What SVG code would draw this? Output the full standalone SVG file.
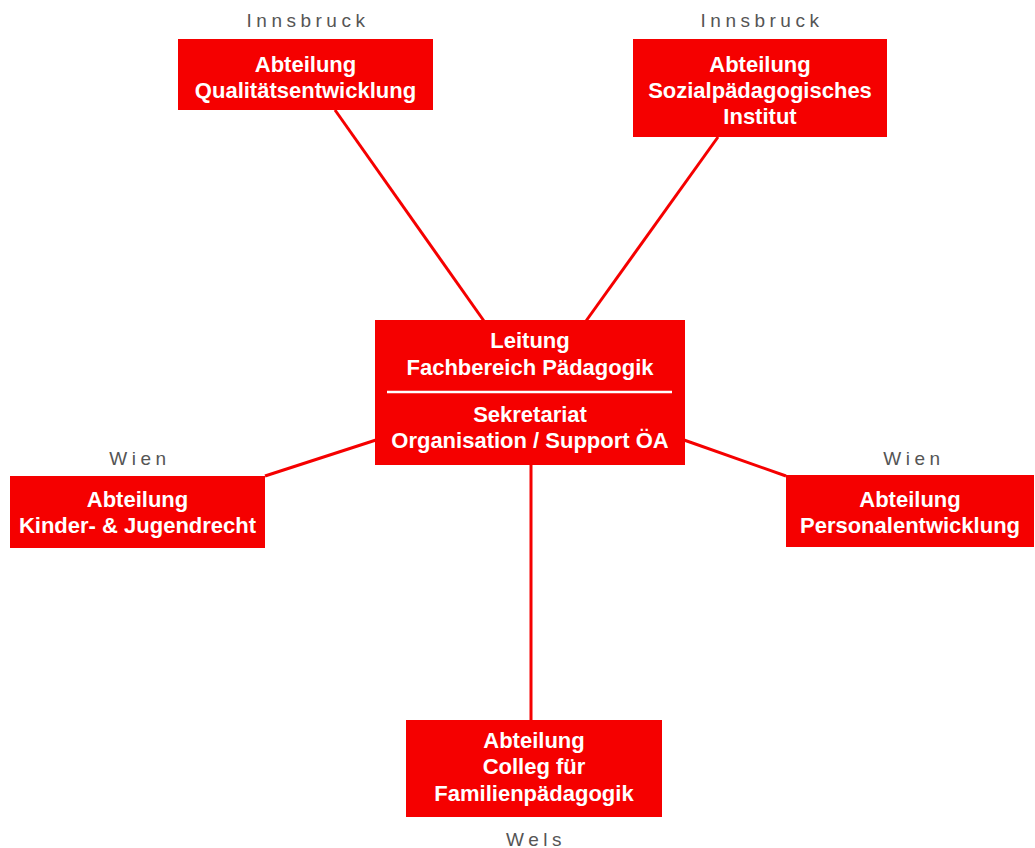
<svg xmlns="http://www.w3.org/2000/svg" width="1035" height="848" viewBox="0 0 1035 848">
<style>
.box{fill:#f50000;}
.t{font-family:"Liberation Sans",Arial,sans-serif;font-weight:bold;font-size:22px;fill:#fff;text-anchor:middle;}
.loc{font-family:"Liberation Sans",Arial,sans-serif;font-size:19px;fill:#555;text-anchor:middle;letter-spacing:4.5px;}
.c{stroke:#f50000;stroke-width:3;fill:none;}
</style>
<rect width="1035" height="848" fill="#fff"/>
<g id="connectors">
<line class="c" x1="335" y1="110" x2="484" y2="321"/>
<line class="c" x1="718" y1="137" x2="586" y2="321"/>
<line class="c" x1="265" y1="476" x2="376" y2="440"/>
<line class="c" x1="684" y1="440" x2="786" y2="476"/>
<line class="c" x1="531" y1="464" x2="531" y2="721"/>
</g>
<g id="center">
<rect class="box" x="375" y="320" width="310" height="145"/>
<text class="t" x="530" y="348">Leitung</text>
<text class="t" x="530" y="375">Fachbereich Pädagogik</text>
<line x1="387" y1="392" x2="672" y2="392" stroke="#fff" stroke-width="2.5"/>
<text class="t" x="530" y="422">Sekretariat</text>
<text class="t" x="530" y="448">Organisation / Support ÖA</text>
</g>
<g id="qualitaet">
<text class="loc" x="308" y="27">Innsbruck</text>
<rect class="box" x="178" y="39" width="255" height="71"/>
<text class="t" x="305.5" y="72">Abteilung</text>
<text class="t" x="305.5" y="98">Qualitätsentwicklung</text>
</g>
<g id="sozial">
<text class="loc" x="762" y="27">Innsbruck</text>
<rect class="box" x="633" y="39" width="254" height="98"/>
<text class="t" x="760" y="72">Abteilung</text>
<text class="t" x="760" y="98">Sozialpädagogisches</text>
<text class="t" x="760" y="124">Institut</text>
</g>
<g id="kinder">
<text class="loc" x="140" y="465">Wien</text>
<rect class="box" x="10" y="476" width="255" height="72"/>
<text class="t" x="137.5" y="507">Abteilung</text>
<text class="t" x="137.5" y="533">Kinder- &amp; Jugendrecht</text>
</g>
<g id="personal">
<text class="loc" x="914" y="465">Wien</text>
<rect class="box" x="786" y="475" width="248" height="72"/>
<text class="t" x="910" y="507">Abteilung</text>
<text class="t" x="910" y="533">Personalentwicklung</text>
</g>
<g id="colleg">
<rect class="box" x="406" y="720" width="256" height="97"/>
<text class="t" x="534" y="748">Abteilung</text>
<text class="t" x="534" y="774">Colleg für</text>
<text class="t" x="534" y="801">Familienpädagogik</text>
<text class="loc" x="536" y="846">Wels</text>
</g>
</svg>
